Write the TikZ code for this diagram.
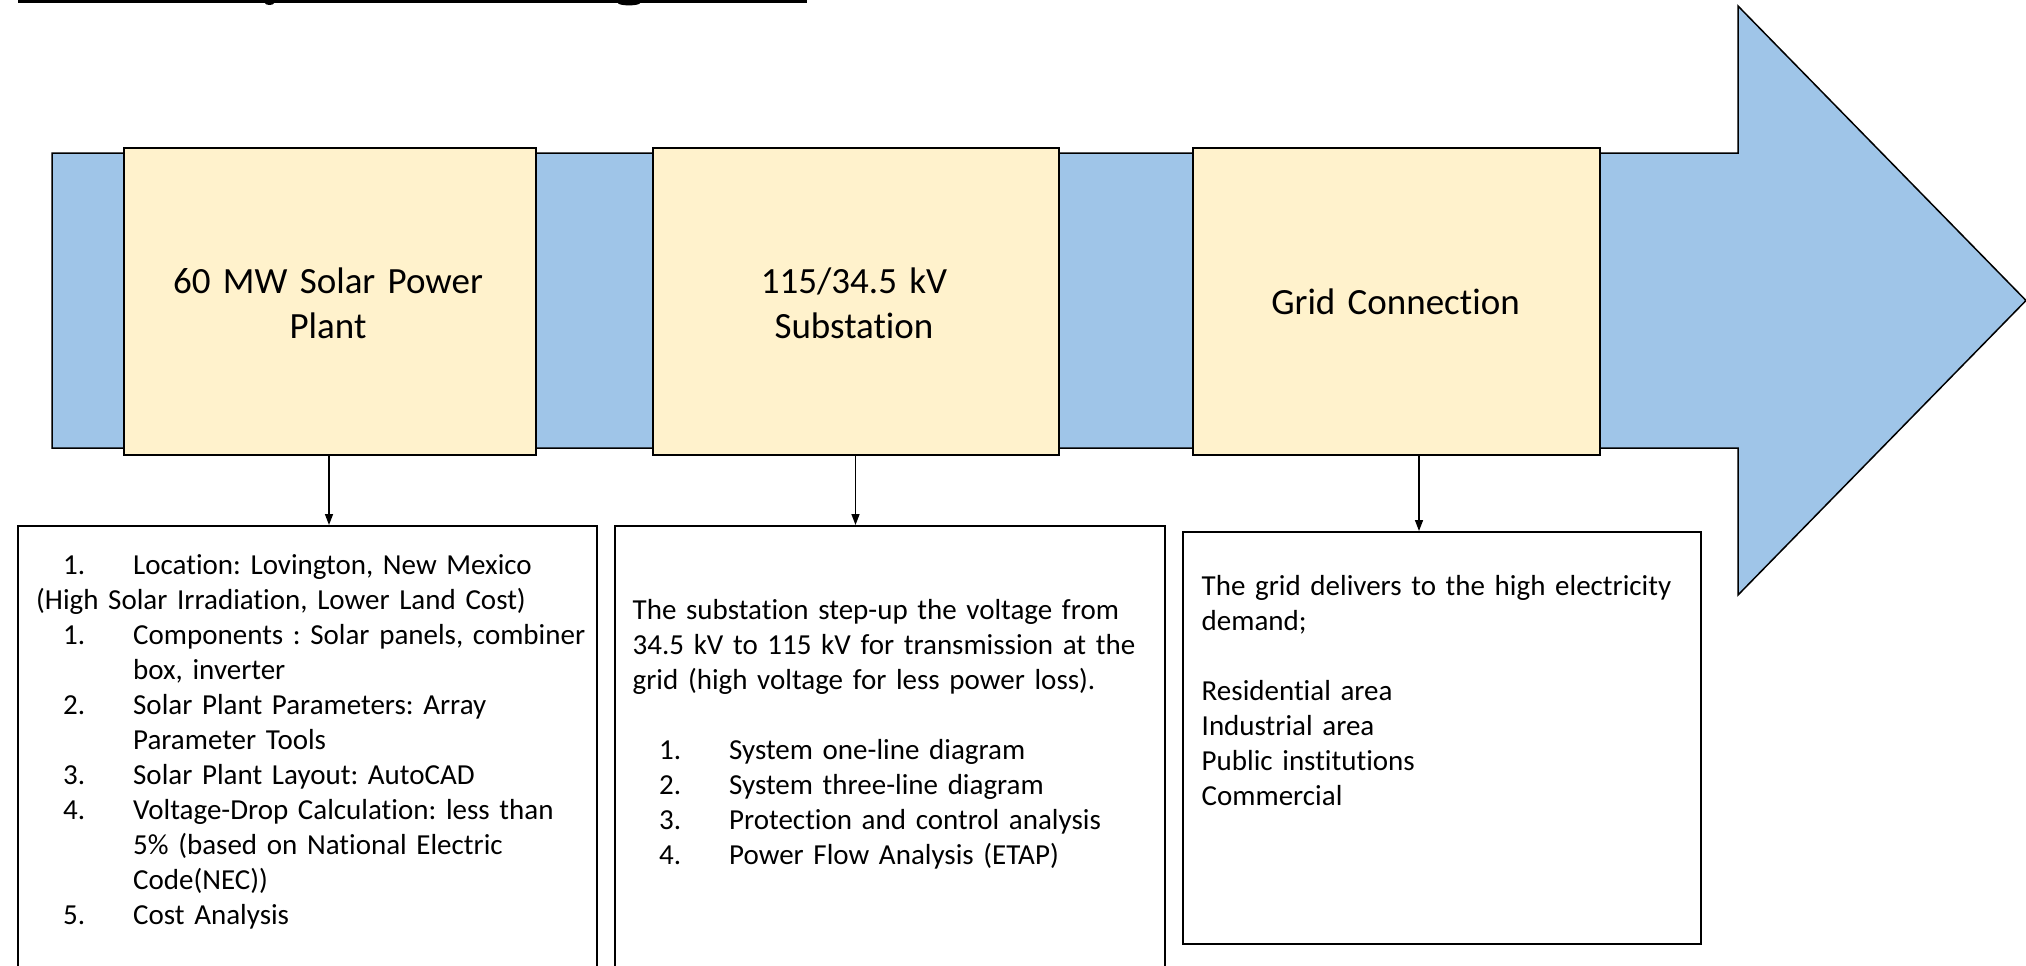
\documentclass[tikz,border=0pt]{standalone}
\usepackage{fontspec}
\setmainfont{Carlito}[RawFeature={-liga;-clig}]
\usetikzlibrary{arrows.meta,calc}
\definecolor{arrowblue}{HTML}{9FC5E8}
\definecolor{stageyellow}{HTML}{FFF2CC}
\frenchspacing
\begin{document}
\begin{tikzpicture}[x=1pt,y=-1pt,
  stagebox/.style={draw=black,line width=2pt,fill=stageyellow,inner sep=0pt,anchor=north west},
  infobox/.style={draw=black,line width=2pt,fill=white,inner sep=0pt,anchor=north west},
  stagetext/.style={font=\fontsize{37}{45}\selectfont\frenchspacing,text width=400pt,align=center,inner sep=0pt,anchor=base},
  infotext/.style={font=\fontsize{29}{35}\selectfont\frenchspacing,text width=560pt,align=left,inner sep=0pt,anchor=base west},
  link/.style={line width=1.5pt,-{Triangle[length=11pt,width=8pt]}}]
\useasboundingbox (0,0) rectangle (2026,966);
\clip (0,0) rectangle (2026,966);
% cut-off title underline
\fill[black] (18,-1) rectangle (807,3.3);
\fill[black] (269.5,3) ellipse [x radius=4.5, y radius=2];
\fill[black] (629,3) ellipse [x radius=11, y radius=2.4];
% big blue arrow
\draw[line width=1.5pt,fill=arrowblue,line join=miter]
  (52,153) -- (1738,153) -- (1738,6) -- (2026,300.5) -- (1738,595) -- (1738,448) -- (52,448) -- cycle;
% stage boxes
\node[stagebox,minimum width=412pt,minimum height=307pt] (y1) at (123,147) {};
\node[stagebox,minimum width=406pt,minimum height=307pt] (y2) at (652,147) {};
\node[stagebox,minimum width=407pt,minimum height=307pt] (y3) at (1192,147) {};
\node[stagetext] (y1txt) at (328,293) {60 MW Solar Power\\Plant};
\node[stagetext] (y2txt) at (854,293) {115/34.5 kV\\Substation};
\node[stagetext] (y3txt) at (1395.5,314) {Grid Connection};
% info boxes
\node[infobox,minimum width=579pt,minimum height=470pt] (t1) at (17,525) {};
\node[infobox,minimum width=550pt,minimum height=470pt] (t2) at (614,525) {};
\node[infobox,minimum width=518pt,minimum height=412pt] (t3) at (1182,531) {};
% connectors
\draw[link] ([xshift=-1pt]y1.south) -- ([xshift=21.5pt]t1.north);
\draw[link] ([xshift=-0.5pt]y2.south) -- ([xshift=-34.5pt]t2.north);
\draw[link] ([xshift=22.5pt]y3.south) -- ([xshift=-23pt]t3.north);
% info texts
\node[infotext] (t1txt) at (36,574) {%
\hspace*{27pt}\makebox[70pt][l]{1.}Location: Lovington, New Mexico\\
(High Solar Irradiation, Lower Land Cost)\\
\hspace*{27pt}\makebox[70pt][l]{1.}Components : Solar panels, combiner\\
\hspace*{97pt}box, inverter\\
\hspace*{27pt}\makebox[70pt][l]{2.}Solar Plant Parameters: Array\\
\hspace*{97pt}Parameter Tools\\
\hspace*{27pt}\makebox[70pt][l]{3.}Solar Plant Layout: AutoCAD\\
\hspace*{27pt}\makebox[70pt][l]{4.}Voltage-Drop Calculation: less than\\
\hspace*{97pt}5\% (based on National Electric\\
\hspace*{97pt}Code(NEC))\\
\hspace*{27pt}\makebox[70pt][l]{5.}Cost Analysis};
\node[infotext] (t2txt) at (632.5,619) {%
The substation step-up the voltage from\\
34.5 kV to 115 kV for transmission at the\\
grid (high voltage for less power loss).\\[35pt]
\hspace*{26.5pt}\makebox[70pt][l]{1.}System one-line diagram\\
\hspace*{26.5pt}\makebox[70pt][l]{2.}System three-line diagram\\
\hspace*{26.5pt}\makebox[70pt][l]{3.}Protection and control analysis\\
\hspace*{26.5pt}\makebox[70pt][l]{4.}Power Flow Analysis (ETAP)};
\node[infotext] (t3txt) at (1201.5,595) {%
The grid delivers to the high electricity\\
demand;\\[35pt]
Residential area\\
Industrial area\\
Public institutions\\
Commercial};
\end{tikzpicture}
\end{document}
